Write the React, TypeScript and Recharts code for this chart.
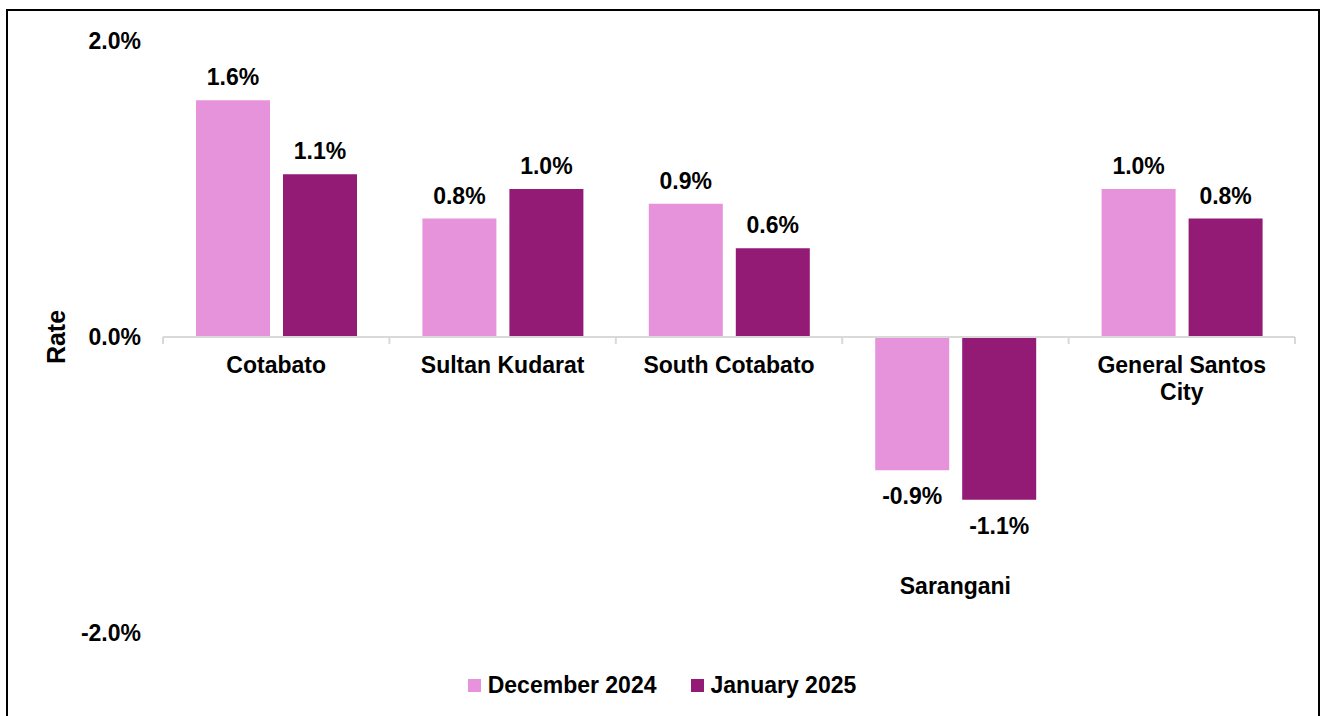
import React from 'react';
import { BarChart, Bar, XAxis, YAxis, Legend, LabelList, ReferenceLine } from 'recharts';

const provinces = ['Cotabato', 'Sultan Kudarat', 'South Cotabato', 'Sarangani', 'General Santos City'];
const dec2024 = [1.6, 0.8, 0.9, -0.9, 1.0];
const jan2025 = [1.1, 1.0, 0.6, -1.1, 0.8];
const yTicks = [-2, 0, 2];

const seriesNames = ['December 2024', 'January 2025'];
const colors = ['#E693DC', '#931A75'];

const W = 1324;
const H = 716;
const LEFT = 163;
const RIGHT = 1295;
const TOP = 41;
const BOTTOM = 633;
const LEGEND_H = 30;
const XAXIS_H = 1;
const FS = 23;
const FONT = '"Liberation Sans", Arial, sans-serif';

const data = provinces.map((p, i) => ({ name: p, dec: dec2024[i], jan: jan2025[i] }));

const zeroY = TOP + (BOTTOM - TOP) / 2;
const band = (RIGHT - LEFT) / provinces.length;

function CategoryTick(props: any) {
  const { x, payload, index } = props;
  const name: string = payload.value;
  const i = provinces.indexOf(name);
  const negative = dec2024[i] < 0 && jan2025[i] < 0;
  const lines = name === 'General Santos City' ? ['General Santos', 'City'] : [name];
  const y0 = negative ? 594 : zeroY + 36;
  const left = x - band / 2;
  return (
    <g>
      <line x1={left} x2={left} y1={zeroY} y2={zeroY + 7} stroke="#d9d9d9" strokeWidth={2} />
      {index === provinces.length - 1 && (
        <line x1={left + band} x2={left + band} y1={zeroY} y2={zeroY + 7} stroke="#d9d9d9" strokeWidth={2} />
      )}
      <text x={x} y={y0} textAnchor="middle" fontFamily={FONT} fontWeight="bold" fontSize={FS} fill="#000">
        {lines.map((l, k) => (
          <tspan key={k} x={x} dy={k === 0 ? 0 : 27}>{l}</tspan>
        ))}
      </text>
    </g>
  );
}

function ValueLabel(props: any) {
  const { x, y, width, height, value } = props;
  const top = Math.min(y, y + height);
  const bottom = Math.max(y, y + height);
  const cx = x + width / 2;
  const ty = value < 0 ? bottom + 34 : top - 15;
  return (
    <text x={cx} y={ty} textAnchor="middle" fontFamily={FONT} fontWeight="bold" fontSize={FS} fill="#000">
      {`${value.toFixed(1)}%`}
    </text>
  );
}

function LegendBox() {
  return (
    <div style={{ display: 'flex', justifyContent: 'center', alignItems: 'center', height: LEGEND_H, fontFamily: FONT, fontWeight: 'bold', fontSize: FS }}>
      {seriesNames.map((s, i) => (
        <div key={s} style={{ display: 'flex', alignItems: 'center', marginLeft: i === 0 ? 0 : 34 }}>
          <span style={{ display: 'inline-block', width: 13, height: 13, background: colors[i], marginRight: 7 }} />
          <span>{s}</span>
        </div>
      ))}
    </div>
  );
}

export default function App() {
  return (
    <div style={{ position: 'absolute', left: 0, top: 0, width: W, height: H, background: '#fff', overflow: 'hidden' }}>
      <div style={{ position: 'absolute', left: 6, top: 9, width: 1314, height: 720, border: '2px solid #000', boxSizing: 'border-box' }} />
      <BarChart
        width={W}
        height={H}
        data={data}
        margin={{ top: TOP, right: W - RIGHT, left: 0, bottom: H - BOTTOM - LEGEND_H - XAXIS_H }}
        barSize={74}
        barGap={13}
      >
        <YAxis
          domain={[-2, 2]}
          ticks={yTicks}
          width={LEFT}
          axisLine={false}
          tickLine={false}
          tickSize={0}
          tickMargin={22}
          tickFormatter={(v: number) => `${v.toFixed(1)}%`}
          tick={{ fontFamily: FONT, fontWeight: 'bold', fontSize: FS, fill: '#000' }}
          label={{ value: 'Rate', angle: -90, position: 'center', dx: -25, fontFamily: FONT, fontWeight: 'bold', fontSize: 25, fill: '#000' }}
        />
        <XAxis dataKey="name" axisLine={false} tickLine={false} tick={<CategoryTick />} interval={0} height={XAXIS_H} />
        <ReferenceLine y={0} stroke="#d9d9d9" strokeWidth={2} />
        <Legend
          content={<LegendBox />}
          wrapperStyle={{ top: 670, left: 0, width: W, height: LEGEND_H }}
        />
        <Bar dataKey="dec" name={seriesNames[0]} fill={colors[0]} isAnimationActive={false}>
          <LabelList dataKey="dec" content={<ValueLabel />} />
        </Bar>
        <Bar dataKey="jan" name={seriesNames[1]} fill={colors[1]} isAnimationActive={false}>
          <LabelList dataKey="jan" content={<ValueLabel />} />
        </Bar>
      </BarChart>
    </div>
  );
}
